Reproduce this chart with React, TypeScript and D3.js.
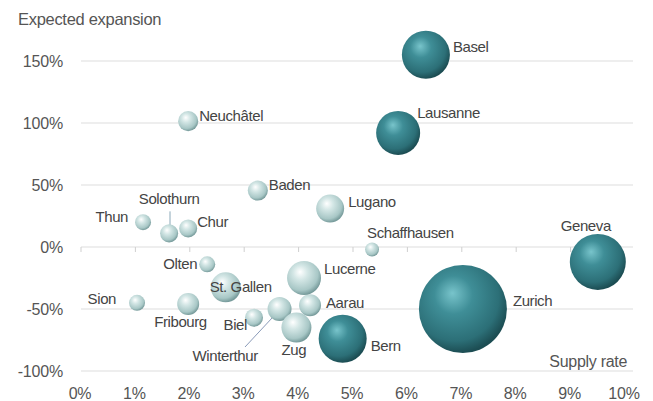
import React from "react";
import * as d3 from "d3";

const cities = ["Basel", "Lausanne", "Neuchâtel", "Baden", "Lugano", "Thun", "Solothurn", "Chur", "Olten", "St. Gallen", "Sion", "Fribourg", "Biel", "Winterthur", "Zug", "Aarau", "Lucerne", "Bern", "Zurich", "Geneva", "Schaffhausen"];
const supplyRate = [6.34, 5.83, 1.97, 3.25, 4.58, 1.14, 1.62, 1.97, 2.32, 2.66, 1.03, 1.97, 3.18, 3.65, 3.96, 4.21, 4.1, 4.81, 7.02, 9.5, 5.35];
const expansion = [155, 92, 101.5, 45.5, 31, 20, 11, 15, -14, -32.5, -45, -46, -57, -50, -65, -47, -25, -74, -50, -12, -2];
const volume = [29.8, 25, 5.2, 5.2, 10.1, 3.3, 4.2, 4.2, 3.3, 11.6, 3.3, 6.25, 4.2, 7.4, 11.6, 6.25, 14.9, 29.8, 100, 40.5, 2.5];
const xTicks = [0, 1, 2, 3, 4, 5, 6, 7, 8, 9, 10];
const yTicks = [-100, -50, 0, 50, 100, 150];

// label placement (pixel offsets from bubble centre)
const labelPlace: Record<string, [number, number, string]> = {
  "Basel": [27, -3, "start"],
  "Lausanne": [19, -15, "start"],
  "Neuchâtel": [11, 0, "start"],
  "Baden": [11, -1, "start"],
  "Lugano": [18, -2, "start"],
  "Thun": [-15, 0, "end"],
  "Solothurn": [0, -29, "middle"],
  "Chur": [9, -1, "start"],
  "Olten": [-10, 5, "end"],
  "St. Gallen": [-16, 5, "start"],
  "Sion": [-21, 1, "end"],
  "Fribourg": [-34, 23, "start"],
  "Biel": [-7, 12, "end"],
  "Winterthur": [-87, 52, "start"],
  "Zug": [-15, 27, "start"],
  "Aarau": [16, 3, "start"],
  "Lucerne": [20, -4, "start"],
  "Bern": [28, 12, "start"],
  "Zurich": [50, -3, "start"],
  "Geneva": [-12, -31, "middle"],
  "Schaffhausen": [-5, -11, "start"],
};

const W = 653, H = 401;
const x = d3.scaleLinear().domain([0, 10]).range([81, 625]);
const y = d3.scaleLinear().domain([-100, 150]).range([371, 61]);
const r = d3.scaleSqrt().domain([0, 100]).range([0, 44]);

export default function App() {
  const data = cities.map((c, i) => ({ c, sx: supplyRate[i], ey: expansion[i], v: volume[i] }))
    .sort((a, b) => a.v - b.v);
  const font = "'Liberation Sans', Arial, sans-serif";
  return (
    <svg width={W} height={H} style={{ position: "absolute", left: 0, top: 0, background: "#fff" }} fontFamily={font}>
      <defs>
        <radialGradient id="gDark" cx="0.42" cy="0.38" r="0.62" fx="0.38" fy="0.32">
          <stop offset="0" stopColor="#78c4cb" />
          <stop offset="0.35" stopColor="#3f8e97" />
          <stop offset="0.8" stopColor="#2c6f77" />
          <stop offset="1" stopColor="#1c4d53" />
        </radialGradient>
        <radialGradient id="gLight" cx="0.42" cy="0.38" r="0.62" fx="0.38" fy="0.32">
          <stop offset="0" stopColor="#ffffff" />
          <stop offset="0.35" stopColor="#d3e6e5" />
          <stop offset="0.8" stopColor="#a8c7c6" />
          <stop offset="1" stopColor="#779b9b" />
        </radialGradient>
      </defs>
      {yTicks.map((t) => (
        <g key={t}>
          <line x1={81} x2={633} y1={y(t)} y2={y(t)} stroke="#dddddd" strokeWidth={1} />
          <text x={63} y={y(t) + 5.5} textAnchor="end" fontSize={16} fill="#555" letterSpacing={-0.2}>{t}%</text>
        </g>
      ))}
      {xTicks.map((t) => (
        <g key={t}>
          {t < 10 && <line x1={x(t)} x2={x(t)} y1={y(0)} y2={y(0) + 5} stroke="#cfcfcf" strokeWidth={1} />}
          <text x={x(t) - 1} y={399} textAnchor="middle" fontSize={16} fill="#555" letterSpacing={-0.2}>{t}%</text>
        </g>
      ))}
      <text x={18} y={25} fontSize={16.5} fill="#555" letterSpacing={-0.3}>Expected expansion</text>
      <text x={627} y={367} textAnchor="end" fontSize={16} fill="#555" letterSpacing={-0.3}>Supply rate</text>
      <line x1={170} x2={170} y1={y(11) - 22} y2={y(11) - 2} stroke="#8aa8b8" strokeWidth={1} />
      <line x1={245} x2={x(3.65) - 1} y1={347} y2={y(-50) + 2} stroke="#8a9ab8" strokeWidth={1} />
      {data.map((d) => (
        <circle key={d.c} cx={x(d.sx)} cy={y(d.ey)} r={r(d.v)} fill={d.v > 20 ? "url(#gDark)" : "url(#gLight)"} />
      ))}
      {data.map((d) => {
        const p = labelPlace[d.c];
        return (
          <text key={d.c} x={x(d.sx) + p[0]} y={y(d.ey) + p[1]} textAnchor={p[2] as any} fontSize={15} fill="#444" letterSpacing={-0.4}>{d.c}</text>
        );
      })}
    </svg>
  );
}
